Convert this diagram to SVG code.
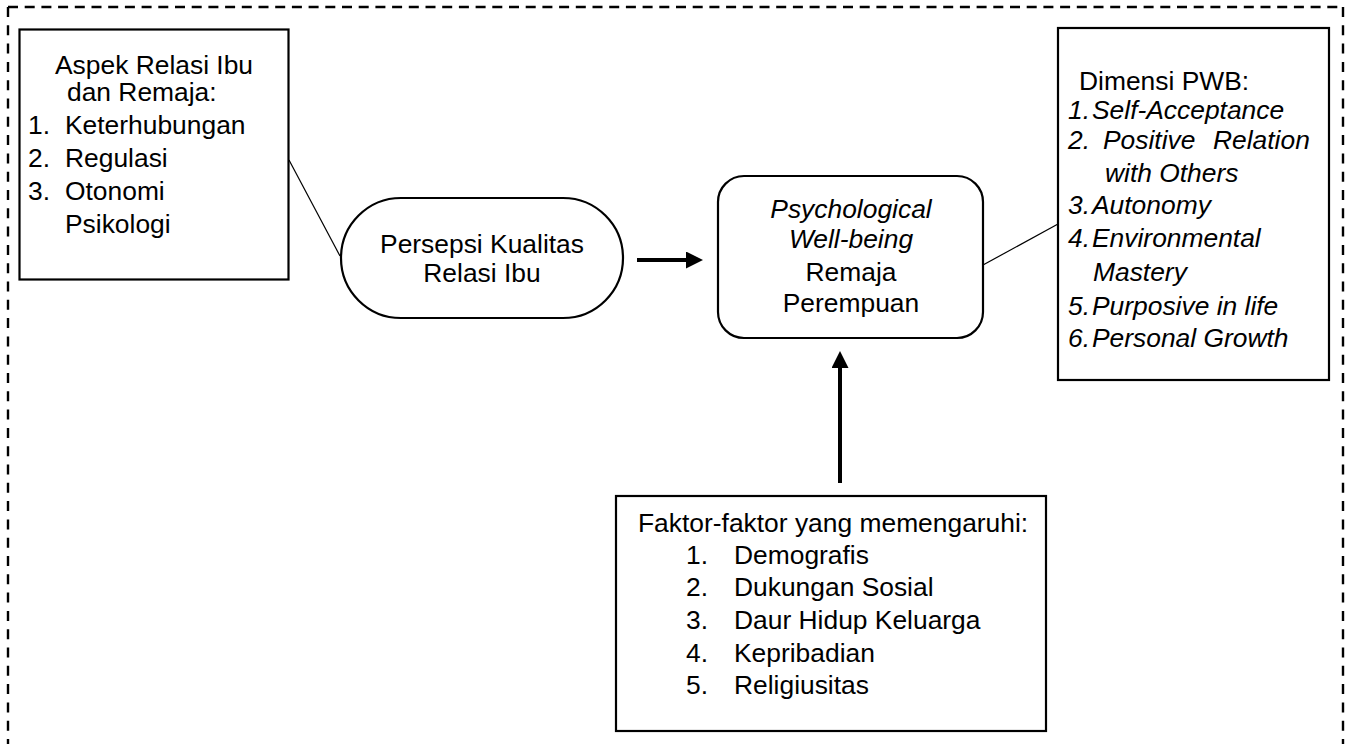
<svg xmlns="http://www.w3.org/2000/svg" width="1353" height="744" viewBox="0 0 1353 744">
<style>
text{font-family:"Liberation Sans",Arial,sans-serif;font-size:26.4px;fill:#000}
.it{font-style:italic}
.box{fill:#fff;stroke:#000;stroke-width:2.2}
.thin{stroke:#000;stroke-width:1.2;fill:none}
.arr{stroke:#000;stroke-width:4;fill:none}
.dash{stroke:#000;stroke-width:2.4;fill:none}
</style>
<defs>
<marker id="ah" markerUnits="userSpaceOnUse" markerWidth="17" markerHeight="17" refX="0" refY="8.5" orient="auto">
<path d="M0,0 L17,8.5 L0,17 z" fill="#000"/>
</marker>
</defs>
<rect width="1353" height="744" fill="#fff"/>
<g id="frame">
<line class="dash" x1="8" y1="7" x2="1343" y2="7" stroke-dasharray="10,6.7"/>
<line class="dash" x1="8" y1="7" x2="8" y2="744" stroke-dasharray="10,8.3"/>
<line class="dash" x1="1343" y1="7" x2="1343" y2="744" stroke-dasharray="10,8.3"/>
</g>
<g id="connectors">
<line class="thin" x1="289" y1="160" x2="340" y2="256"/>
<line class="thin" x1="983" y1="265" x2="1058" y2="224"/>
<line class="arr" x1="637" y1="260" x2="686" y2="260" marker-end="url(#ah)"/>
<line class="arr" x1="840" y1="483" x2="840" y2="368" marker-end="url(#ah)"/>
</g>
<g id="aspek">
<rect class="box" x="19.5" y="29.5" width="269" height="250"/>
<text x="55" y="74">Aspek Relasi Ibu</text>
<text x="67" y="101">dan Remaja:</text>
<text x="28" y="134">1.</text><text x="65" y="134">Keterhubungan</text>
<text x="28" y="167">2.</text><text x="65" y="167">Regulasi</text>
<text x="28" y="200">3.</text><text x="65" y="200">Otonomi</text>
<text x="65" y="233">Psikologi</text>
</g>
<g id="persepsi">
<rect class="box" x="341" y="198" width="282" height="120" rx="60" ry="60"/>
<text x="482" y="253" text-anchor="middle">Persepsi Kualitas</text>
<text x="482" y="282" text-anchor="middle">Relasi Ibu</text>
</g>
<g id="pwb">
<rect class="box" x="718" y="176" width="265" height="162" rx="26" ry="26"/>
<text class="it" x="851" y="218" text-anchor="middle">Psychological</text>
<text class="it" x="851" y="248" text-anchor="middle">Well-being</text>
<text x="851" y="281" text-anchor="middle">Remaja</text>
<text x="851" y="312" text-anchor="middle">Perempuan</text>
</g>
<g id="dimensi">
<rect class="box" x="1058" y="28" width="271" height="352"/>
<text x="1079" y="90">Dimensi PWB:</text>
<text class="it" x="1068" y="119">1.</text><text class="it" x="1092" y="119">Self-Acceptance</text>
<text class="it" x="1068" y="149">2.</text><text class="it" x="1103" y="149">Positive</text><text class="it" x="1213" y="149">Relation</text>
<text class="it" x="1105" y="182">with Others</text>
<text class="it" x="1068" y="214">3.</text><text class="it" x="1092" y="214">Autonomy</text>
<text class="it" x="1068" y="247">4.</text><text class="it" x="1092" y="247">Environmental</text>
<text class="it" x="1093" y="281">Mastery</text>
<text class="it" x="1068" y="315">5.</text><text class="it" x="1092" y="315">Purposive in life</text>
<text class="it" x="1068" y="347">6.</text><text class="it" x="1092" y="347">Personal Growth</text>
</g>
<g id="faktor">
<rect class="box" x="616" y="496" width="430" height="235"/>
<text x="638" y="532">Faktor-faktor yang memengaruhi:</text>
<text x="686" y="564">1.</text><text x="734" y="564">Demografis</text>
<text x="686" y="596">2.</text><text x="734" y="596">Dukungan Sosial</text>
<text x="686" y="629">3.</text><text x="734" y="629">Daur Hidup Keluarga</text>
<text x="686" y="662">4.</text><text x="734" y="662">Kepribadian</text>
<text x="686" y="694">5.</text><text x="734" y="694">Religiusitas</text>
</g>
</svg>
